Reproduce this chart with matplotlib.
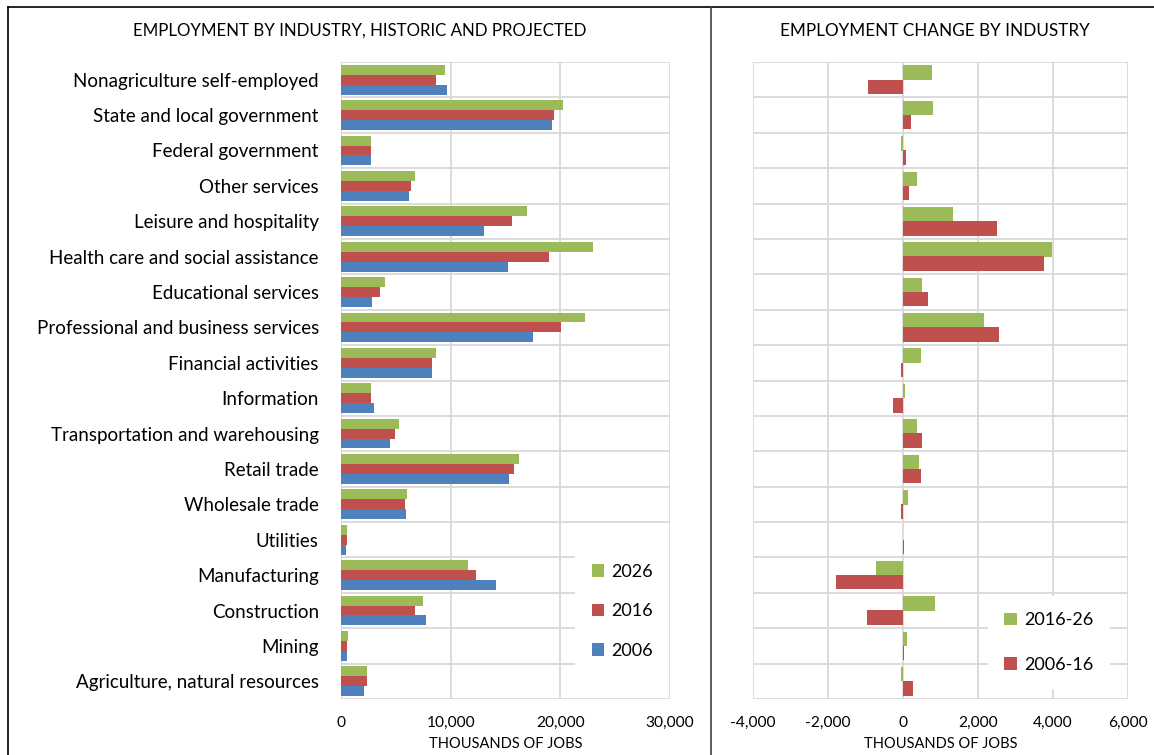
import numpy as np
import matplotlib
matplotlib.use("Agg")
import matplotlib.pyplot as plt
from matplotlib.lines import Line2D

plt.rcParams['font.family'] = ['Lato', 'DejaVu Sans']

# Industries, top to bottom as shown
industries = [
    'Nonagriculture self-employed',
    'State and local government',
    'Federal government',
    'Other services',
    'Leisure and hospitality',
    'Health care and social assistance',
    'Educational services',
    'Professional and business services',
    'Financial activities',
    'Information',
    'Transportation and warehousing',
    'Retail trade',
    'Wholesale trade',
    'Utilities',
    'Manufacturing',
    'Construction',
    'Mining',
    'Agriculture, natural resources',
]

# Employment, thousands of jobs
emp_2006 = [9700, 19200, 2730, 6210, 13060, 15240, 2850, 17520, 8300,
            3030, 4450, 15360, 5910, 490, 14150, 7730, 580, 2060]
emp_2016 = [8700, 19390, 2760, 6420, 15550, 19000, 3550, 20090, 8270,
            2730, 4940, 15730, 5850, 580, 12270, 6730, 580, 2330]
emp_2026 = [9490, 20210, 2730, 6730, 16940, 22970, 4030, 22270, 8700,
            2730, 5300, 16240, 6030, 580, 11580, 7520, 670, 2330]

# Employment change, thousands of jobs
chg_06_16 = [-925, 200, 90, 170, 2500, 3770, 660, 2560, -60,
             -255, 510, 485, -45, 20, -1790, -960, 25, 255]
chg_16_26 = [775, 800, -45, 380, 1320, 3975, 510, 2160, 485,
             55, 380, 430, 130, -10, -720, 865, 115, -45]

green = '#9BBB59'
red = '#C0504D'
blue = '#4F81BD'
grid_c = '#D9D9D9'

W, H = 1154, 755
fig = plt.figure(figsize=(W / 100, H / 100), dpi=100)

n = len(industries)
y = np.arange(n)

# --- Left panel: employment levels ---
ax1 = fig.add_axes([341 / W, 1 - 699 / H, 329 / W, 637 / H])
h = 0.28
ax1.barh(y - h, emp_2026, height=h, color=green, label='2026', zorder=3)
ax1.barh(y, emp_2016, height=h, color=red, label='2016', zorder=3)
ax1.barh(y + h, emp_2006, height=h, color=blue, label='2006', zorder=3)
ax1.set_xlim(0, 30000)
ax1.set_xticks([0, 10000, 20000, 30000])
ax1.set_xticklabels(['0', '10,000', '20,000', '30,000'])
ax1.set_yticks(y)
ax1.set_yticklabels(industries)
ax1.set_xlabel('THOUSANDS OF JOBS', fontsize=10.5, labelpad=5)
leg1 = ax1.legend(loc='upper left', bbox_to_anchor=(0.685, 0.252), fontsize=13,
                  frameon=True, facecolor='white', edgecolor='none', framealpha=1,
                  handlelength=0.7, handleheight=0.7, labelspacing=1.3,
                  borderpad=0.9, handletextpad=0.4)
leg1.set_zorder(5)

# --- Right panel: employment change ---
ax2 = fig.add_axes([753 / W, 1 - 699 / H, 375 / W, 637 / H])
h2 = 0.41
ax2.barh(y - 0.2, chg_16_26, height=h2, color=green, label='2016-26', zorder=3)
ax2.barh(y + 0.2, chg_06_16, height=h2, color=red, label='2006-16', zorder=3)
ax2.set_xlim(-4000, 6000)
ax2.set_xticks([-4000, -2000, 0, 2000, 4000, 6000])
ax2.set_xticklabels(['-4,000', '-2,000', '0', '2,000', '4,000', '6,000'])
ax2.set_yticks(y)
ax2.set_yticklabels([])
ax2.set_xlabel('THOUSANDS OF JOBS', fontsize=10.5, labelpad=5)
leg2 = ax2.legend(loc='upper left', bbox_to_anchor=(0.603, 0.176), fontsize=13,
                  frameon=True, facecolor='white', edgecolor='none', framealpha=1,
                  handlelength=0.7, handleheight=0.7, labelspacing=1.6,
                  borderpad=0.9, handletextpad=0.4)
leg2.set_zorder(5)

for ax in (ax1, ax2):
    ax.set_ylim(n - 0.5, -0.5)
    for b in np.arange(n + 1) - 0.5:
        ax.axhline(b, color=grid_c, linewidth=1.3, zorder=1)
    ax.xaxis.grid(True, color=grid_c, linewidth=1.3, zorder=1)
    ax.set_axisbelow(True)
    for s in ax.spines.values():
        s.set_visible(False)
    ax.tick_params(axis='x', length=0, labelsize=11.2, pad=12)
    ax.tick_params(axis='y', length=0, labelsize=13.5, pad=16)

ax1.axvline(0, color=grid_c, linewidth=1.3, zorder=1)

fig.text(360 / W, 1 - 31 / H, 'EMPLOYMENT BY INDUSTRY, HISTORIC AND PROJECTED',
         ha='center', va='center', fontsize=12.2)
fig.text(935 / W, 1 - 31 / H, 'EMPLOYMENT CHANGE BY INDUSTRY',
         ha='center', va='center', fontsize=12.3)

# panel borders
fig.add_artist(Line2D([8 / W, 8 / W], [0, 1 - 7 / H], color='black', linewidth=1.2))
fig.add_artist(Line2D([8 / W, 1], [1 - 7 / H, 1 - 7 / H], color='black', linewidth=1.2))
fig.add_artist(Line2D([711 / W, 711 / W], [0, 1 - 7 / H], color='#404040', linewidth=1.2))

fig.savefig('out.png', dpi=100)
